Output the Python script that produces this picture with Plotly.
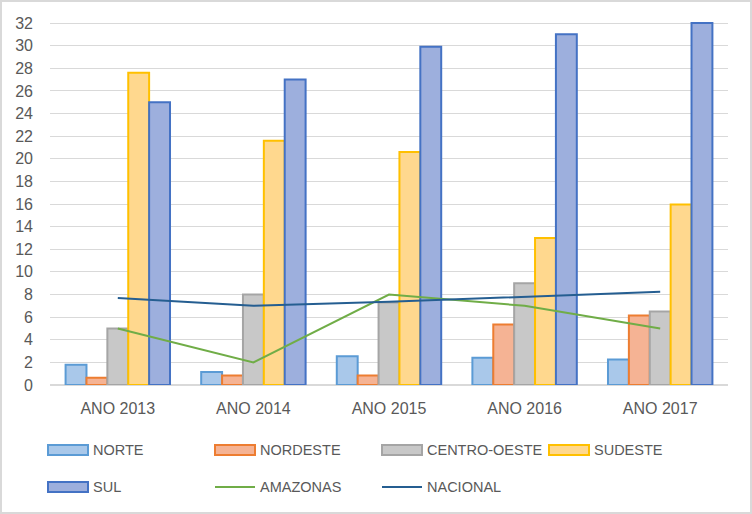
import plotly.graph_objects as go

# Data
anos = ["ANO 2013", "ANO 2014", "ANO 2015", "ANO 2016", "ANO 2017"]
norte = [1.8, 1.15, 2.55, 2.4, 2.25]
nordeste = [0.65, 0.85, 0.85, 5.35, 6.15]
centro_oeste = [5.0, 8.0, 7.3, 9.0, 6.5]
sudeste = [27.6, 21.6, 20.6, 13.0, 15.95]
sul = [25.0, 27.0, 29.9, 31.0, 32.0]
amazonas = [5.0, 2.0, 8.0, 7.0, 5.0]
nacional = [7.7, 7.0, 7.35, 7.8, 8.25]

W, H = 752, 514
ML, MR, MT, MB = 50, 24, 21, 129
PW, PH = W - ML - MR, H - MT - MB

def px(x):
    return (x - ML) / PW

def py(y):
    return (H - MB - y) / PH

bar_series = [
    ("NORTE", norte, "#a9c8ea", "#5b9bd5"),
    ("NORDESTE", nordeste, "#f5b394", "#ed7d31"),
    ("CENTRO-OESTE", centro_oeste, "#c8c8c8", "#a5a5a5"),
    ("SUDESTE", sudeste, "#ffd88e", "#ffc000"),
    ("SUL", sul, "#9dafdd", "#4472c4"),
]
line_series = [
    ("AMAZONAS", amazonas, "#70ad47"),
    ("NACIONAL", nacional, "#255e91"),
]

fig = go.Figure()
for name, vals, fill, edge in bar_series:
    fig.add_trace(go.Bar(x=anos, y=vals, name=name, marker_color=fill,
                         marker_line=dict(color=edge, width=2)))
for name, vals, col in line_series:
    fig.add_trace(go.Scatter(x=anos, y=vals, name=name, mode="lines",
                             line=dict(color=col, width=2)))

# Excel style legend drawn by hand
shapes = []
annotations = []
legend_pos = [(48, 450), (215, 450), (382, 450), (549, 450), (48, 487), (215, 487), (382, 487)]
items = [(n, f, e, "bar") for n, v, f, e in bar_series] + [(n, c, c, "line") for n, v, c in line_series]
for (lx, ly), (name, fill, edge, kind) in zip(legend_pos, items):
    if kind == "bar":
        shapes.append(dict(type="rect", xref="paper", yref="paper",
                           x0=px(lx), x1=px(lx + 40), y0=py(ly + 5), y1=py(ly - 5),
                           fillcolor=fill, line=dict(color=edge, width=2)))
    else:
        shapes.append(dict(type="line", xref="paper", yref="paper",
                           x0=px(lx), x1=px(lx + 40), y0=py(ly), y1=py(ly),
                           line=dict(color=edge, width=2)))
    annotations.append(dict(text=name, xref="paper", yref="paper", x=px(lx + 43), y=py(ly),
                            xanchor="left", yanchor="middle", showarrow=False,
                            font=dict(size=14.5, color="#595959")))

# chart border
shapes.append(dict(type="rect", xref="paper", yref="paper",
                   x0=px(1), x1=px(W - 1), y0=py(H - 1), y1=py(1),
                   line=dict(color="#d9d9d9", width=2), layer="below"))

fig.update_layout(
    width=W, height=H,
    margin=dict(l=ML, r=MR, t=MT, b=MB),
    plot_bgcolor="white", paper_bgcolor="white",
    barmode="group", bargap=0.23, bargroupgap=0,
    showlegend=False,
    font=dict(family="Liberation Sans", size=15, color="#595959"),
    shapes=shapes, annotations=annotations,
)
# a little headroom above 32 so the top border of the tallest bar is not cut
fig.update_yaxes(range=[0, 32.18], tickvals=list(range(0, 33, 2)), showgrid=True,
                 gridcolor="#d9d9d9", zeroline=True, zerolinecolor="#d9d9d9",
                 ticks="", showline=False, tickfont=dict(size=16), ticklabelstandoff=16)
fig.update_xaxes(showgrid=False, ticks="", showline=False, tickfont=dict(size=16),
                 ticklabelstandoff=12)

# remove the default page margin so the chart sits at the window corner
fig.write_html("out.html", config={"displayModeBar": False},
               post_script="document.body.style.margin='0';")
